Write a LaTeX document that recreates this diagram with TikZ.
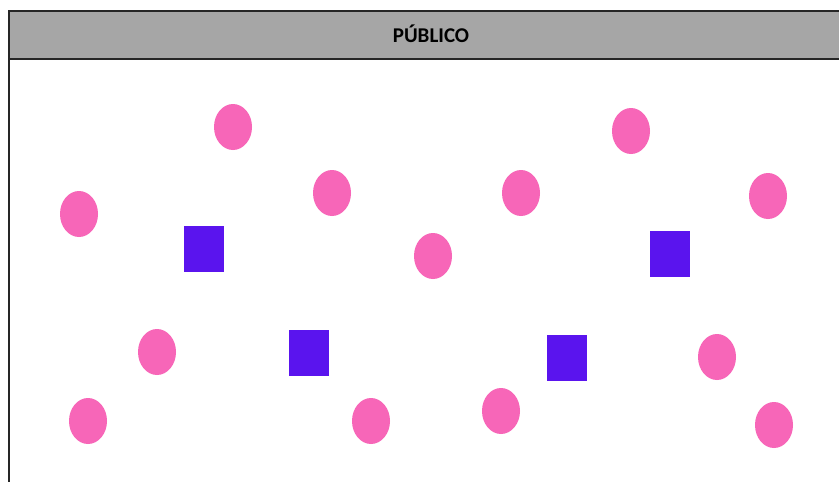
\documentclass[tikz,border=0pt]{standalone}
\usepackage{fontspec}
\setmainfont{Carlito}
\usetikzlibrary{shapes.geometric}
\definecolor{pinkdot}{HTML}{F766B8}
\definecolor{purplesq}{HTML}{5A14EE}
\definecolor{headgray}{HTML}{A6A6A6}
\tikzset{
  person/.style={ellipse, fill=pinkdot, minimum width=38pt, minimum height=46pt, inner sep=0pt},
  block/.style={rectangle, fill=purplesq, minimum width=40pt, minimum height=46pt, inner sep=0pt},
  frameline/.style={draw=black!85, line width=1.6pt}
}
\begin{document}
\begin{tikzpicture}[x=1pt,y=-1pt]
\useasboundingbox (0,0) rectangle (839,482);
\fill[white] (0,0) rectangle (839,482);
% header
\fill[headgray] (9,11) rectangle (845,59);
\node[font=\bfseries\fontsize{21}{24}\selectfont] (title) at (431,34) {PÚBLICO};
\draw[frameline] (9,490) -- (9,11) -- (845,11);
\draw[frameline] (9,59) -- (845,59);
% ellipses
\node[person] (p1) at (233,127) {};
\node[person] (p2) at (631,131) {};
\node[person] (p3) at (79,214) {};
\node[person] (p4) at (332,193) {};
\node[person] (p5) at (521,193) {};
\node[person] (p6) at (768,196) {};
\node[person] (p7) at (433,256) {};
\node[person] (p8) at (157,352) {};
\node[person] (p9) at (717,357) {};
\node[person] (p10) at (88,421) {};
\node[person] (p11) at (371,421) {};
\node[person] (p12) at (501,411) {};
\node[person] (p13) at (774,425) {};
% squares
\node[block] (s1) at (204,249) {};
\node[block] (s2) at (670,254) {};
\node[block] (s3) at (309,353) {};
\node[block] (s4) at (567,358) {};
\end{tikzpicture}
\end{document}
